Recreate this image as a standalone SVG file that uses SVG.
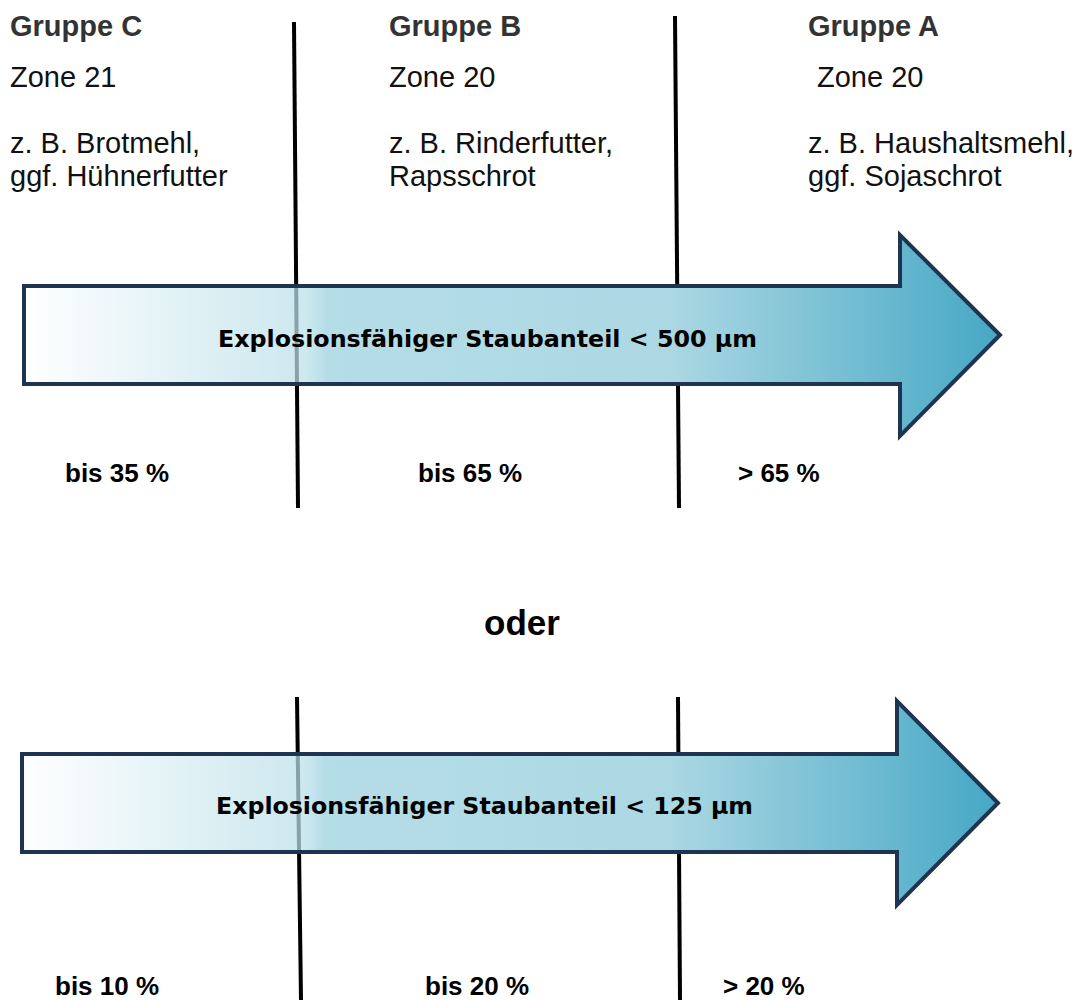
<svg xmlns="http://www.w3.org/2000/svg" width="1080" height="1000" viewBox="0 0 1080 1000">
<defs>
<linearGradient id="g" x1="0" y1="0" x2="1" y2="0">
<stop offset="0" stop-color="#ffffff" stop-opacity="0.8"/>
<stop offset="0.29" stop-color="#b9dfe8" stop-opacity="0.72"/>
<stop offset="0.31" stop-color="#b5dde7" stop-opacity="1"/>
<stop offset="0.66" stop-color="#acd8e3"/>
<stop offset="1" stop-color="#46a8c5"/>
</linearGradient>
<style>
.ln{stroke:#000;stroke-width:4;fill:none}
.arr{fill:url(#g);stroke:#1f3450;stroke-width:4}
.h{font-family:"Liberation Sans",Arial,sans-serif;font-weight:bold;font-size:29px;fill:#333}
.t{font-family:"Liberation Sans",Arial,sans-serif;font-size:29px;fill:#111}
.p{font-family:"Liberation Sans",Arial,sans-serif;font-weight:bold;font-size:26px;fill:#000}
.a{font-family:"DejaVu Sans",Verdana,sans-serif;font-weight:bold;font-size:23px;fill:#000}
.o{font-family:"Liberation Sans",Arial,sans-serif;font-weight:bold;font-size:35px;fill:#000}
</style>
</defs>
<g id="connectors">
<path class="ln" d="M294 22 L298 508"/>
<path class="ln" d="M675 16 L679 508"/>
<path class="ln" d="M297 697 L301 1000"/>
<path class="ln" d="M678 697 L680 1000"/>
</g>
<g id="arrow1">
<path class="arr" d="M24 286 H900 V235 L1000 335 L900 436 V384 H24 Z"/>
<text class="a" x="218" y="347" textLength="539" lengthAdjust="spacingAndGlyphs">Explosionsfähiger Staubanteil &lt; 500 µm</text>
</g>
<g id="arrow2">
<path class="arr" d="M22 754 H897 V701 L998 803 L897 905 V852 H22 Z"/>
<text class="a" x="216" y="814" textLength="537" lengthAdjust="spacingAndGlyphs">Explosionsfähiger Staubanteil &lt; 125 µm</text>
</g>
<g id="gruppeC">
<text class="h" x="10" y="36">Gruppe C</text>
<text class="t" x="10" y="87">Zone 21</text>
<text class="t" x="10" y="153">z. B. Brotmehl,</text>
<text class="t" x="10" y="186">ggf. Hühnerfutter</text>
</g>
<g id="gruppeB">
<text class="h" x="389" y="36">Gruppe B</text>
<text class="t" x="389" y="87">Zone 20</text>
<text class="t" x="389" y="153">z. B. Rinderfutter,</text>
<text class="t" x="389" y="186">Rapsschrot</text>
</g>
<g id="gruppeA">
<text class="h" x="808" y="36">Gruppe A</text>
<text class="t" x="817" y="87">Zone 20</text>
<text class="t" x="808" y="153">z. B. Haushaltsmehl,</text>
<text class="t" x="808" y="186">ggf. Sojaschrot</text>
</g>
<g id="labels1">
<text class="p" x="65" y="482">bis 35 %</text>
<text class="p" x="418" y="482">bis 65 %</text>
<text class="p" x="738" y="482">&gt; 65 %</text>
</g>
<g id="oder"><text class="o" x="522" y="635" text-anchor="middle">oder</text></g>
<g id="labels2">
<text class="p" x="55" y="995">bis 10 %</text>
<text class="p" x="425" y="995">bis 20 %</text>
<text class="p" x="723" y="995">&gt; 20 %</text>
</g>
</svg>
